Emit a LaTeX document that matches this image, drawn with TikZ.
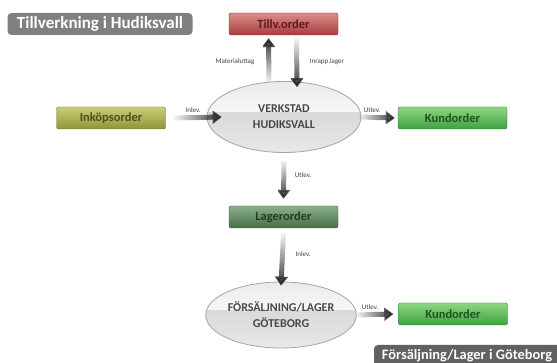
\documentclass[tikz,border=0pt]{standalone}
\usepackage{fontspec}
\setmainfont{Carlito}
\usetikzlibrary{shapes.geometric,arrows.meta,fadings}
\definecolor{redT}{RGB}{222,140,140}
\definecolor{redB}{RGB}{165,60,60}
\definecolor{redTx}{RGB}{95,25,25}
\definecolor{olT}{RGB}{205,205,120}
\definecolor{olB}{RGB}{140,150,55}
\definecolor{olTx}{RGB}{80,80,30}
\definecolor{grT}{RGB}{140,215,130}
\definecolor{grB}{RGB}{65,160,65}
\definecolor{grTx}{RGB}{30,85,30}
\definecolor{dgT}{RGB}{140,175,140}
\definecolor{dgB}{RGB}{70,110,70}
\definecolor{dgTx}{RGB}{35,60,35}
\definecolor{arr}{RGB}{40,40,40}
\tikzfading[name=fadeR, left color=transparent!100, right color=transparent!0]
\tikzfading[name=fadeD, top color=transparent!100, bottom color=transparent!0]
\tikzfading[name=fadeU, top color=transparent!0, bottom color=transparent!100]
\tikzset{
  obox/.style={rectangle, rounded corners=2pt, minimum width=109pt, minimum height=22pt,
     inner sep=0pt, font=\bfseries\fontsize{12.5}{14}\selectfont},
  redbox/.style={obox, top color=redT, bottom color=redB, draw=redB!80!black, line width=0.4pt, text=redTx},
  olbox/.style={obox, top color=olT, bottom color=olB, draw=olB!80!black, line width=0.4pt, text=olTx},
  grbox/.style={obox, top color=grT, bottom color=grB, draw=grB!80!black, line width=0.4pt, text=grTx},
  dgbox/.style={obox, top color=dgT, bottom color=dgB, draw=dgB!80!black, line width=0.4pt, text=dgTx},
  place/.style={ellipse, inner sep=0pt, fill=black!10,
     path picture={
       \fill[top color=black!19, bottom color=black!9]
         (path picture bounding box.north west) rectangle (path picture bounding box.south east);
       \fill[top color=black!8, bottom color=black!3]
         (path picture bounding box.north west) rectangle ([yshift=5pt]path picture bounding box.east);
     },
     draw=black!35, line width=0.8pt, text=black!72, align=center,
     font=\bfseries\fontsize{12}{16}\selectfont},
  fat/.style={draw=arr, line width=5pt, -{Triangle[width=13pt,length=9pt]}},
  lbl/.style={font=\fontsize{7}{8}\selectfont, text=black!75, inner sep=0pt},
  ttl/.style={rectangle, rounded corners=4pt, text=white, inner sep=0pt}
}
\begin{document}
\begin{tikzpicture}[x=1pt,y=-1pt]
\useasboundingbox (0,0) rectangle (557,363);
% titles
\node[ttl, fill=black!50, minimum width=185pt, minimum height=22pt,
      font=\bfseries\fontsize{17}{20}\selectfont] (t1) at (100,24) {Tillverkning i Hudiksvall};
\begin{scope}
\clip (0,0) rectangle (557,363);
\fill[black!62, rounded corners=4pt] (374,345) rectangle (562,372);
\end{scope}
\node[text=white, inner sep=0pt, font=\bfseries\fontsize{14.4}{16}\selectfont] (t2) at (467,355.5) {Försäljning/Lager i Göteborg};
% boxes
\node[redbox] (tillv) at (283.5,24) {Tillv.order};
\node[olbox] (inkop) at (111,118) {Inköpsorder};
\node[grbox] (kund1) at (452.5,118) {Kundorder};
\node[dgbox] (lager) at (283.5,217) {Lagerorder};
\node[grbox] (kund2) at (453,314) {Kundorder};
% ellipses
\node[place, minimum width=154pt, minimum height=71pt] (verk) at (284,117) {VERKSTAD\\HUDIKSVALL};
\node[place, minimum width=148pt, minimum height=66pt] (fors) at (281,315) {FÖRSÄLJNING/LAGER\\GÖTEBORG};
% arrows
\draw[fat, path fading=fadeU] ([xshift=-15pt,yshift=-1pt]verk.north) -- ([xshift=-15pt,yshift=-3pt]tillv.south);
\draw[fat, path fading=fadeD] ([xshift=13pt,yshift=-3pt]tillv.south) -- ([xshift=13pt,yshift=-6pt]verk.north);
\draw[fat, path fading=fadeR] ([xshift=8pt]inkop.east) -- ([xshift=15pt]verk.west);
\draw[fat, path fading=fadeR] ([xshift=-2pt]verk.east) -- ([xshift=-3pt]kund1.west);
\draw[fat, path fading=fadeD] ([yshift=-8pt]verk.south) -- ([yshift=7pt]lager.north);
\draw[fat, path fading=fadeD] ([yshift=-5pt]lager.south) -- ([yshift=-4pt]fors.north);
\draw[fat, path fading=fadeR] (fors.east) -- ([xshift=-5pt]kund2.west);
% labels
\node[lbl] (l1) at (235,62) {Materialuttag};
\node[lbl] (l2) at (327,62) {Inrapp.lager};
\node[lbl] (l3) at (193,110) {Inlev.};
\node[lbl] (l4) at (372,110) {Utlev.};
\node[lbl] (l5) at (303,175) {Utlev.};
\node[lbl] (l6) at (303,254) {Inlev.};
\node[lbl] (l7) at (370,307) {Utlev.};
\end{tikzpicture}
\end{document}
